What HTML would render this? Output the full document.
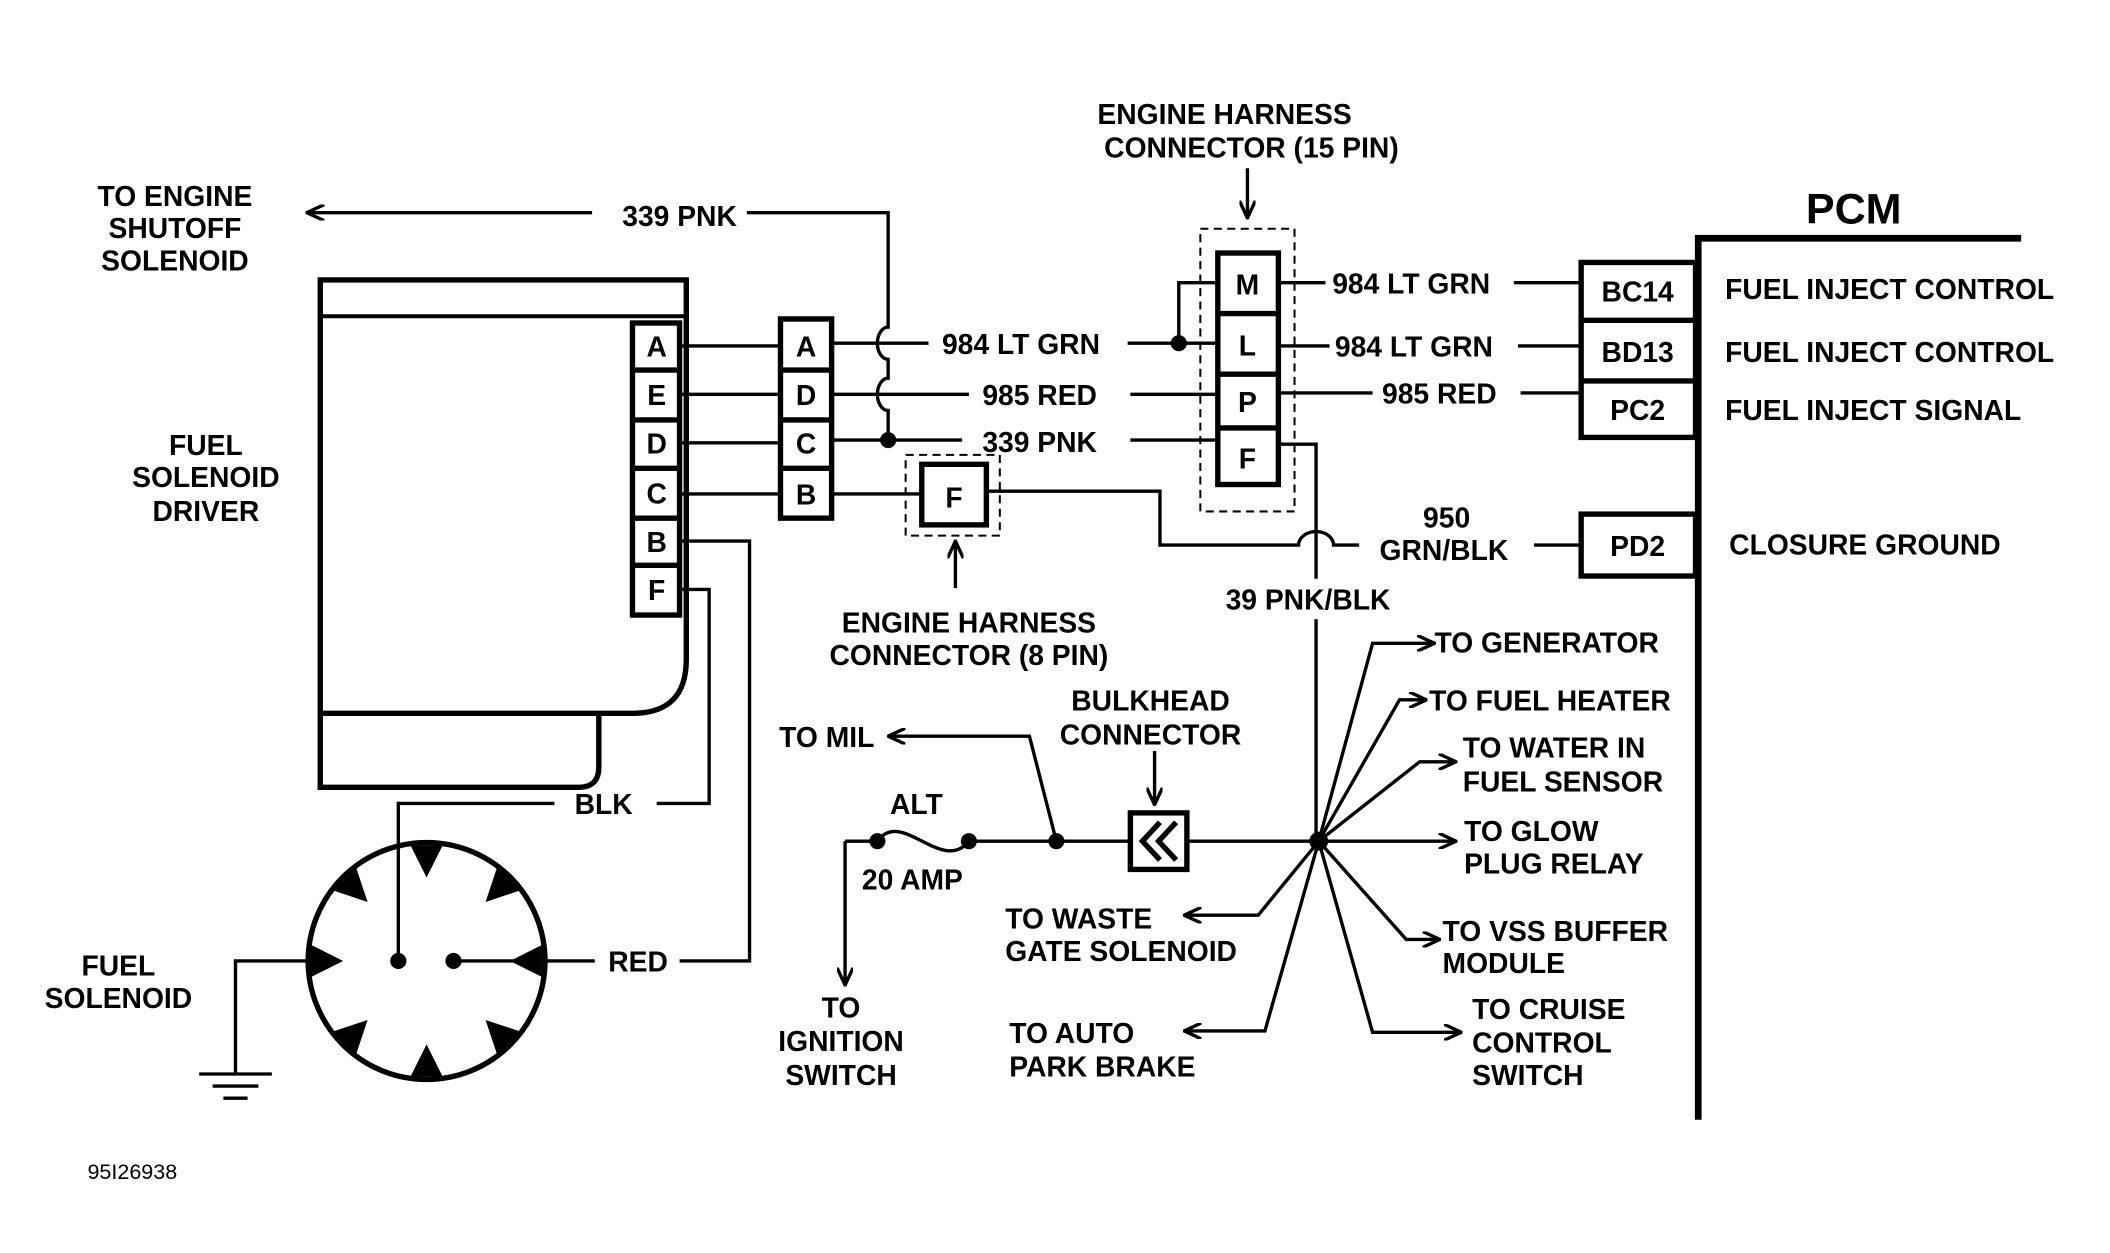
<!DOCTYPE html>
<html><head><meta charset="utf-8"><style>
html,body{margin:0;padding:0;background:#fff;}
svg{display:block;}
text{font-family:"Liberation Sans",sans-serif;font-weight:bold;font-size:21px;fill:#000;}
</style></head><body>
<svg width="2110" height="1253" viewBox="0 0 1568 931" preserveAspectRatio="none" xmlns="http://www.w3.org/2000/svg">
<defs>
<marker id="ar" markerWidth="14" markerHeight="12" refX="13" refY="6" orient="auto" markerUnits="userSpaceOnUse">
<path d="M0,0 L13,6 L0,12" fill="none" stroke="#000" stroke-width="2.5"/>
</marker>
</defs>
<g stroke="#000" stroke-width="2.5" fill="none">
<line x1="440" y1="158" x2="228" y2="158" marker-end="url(#ar)"/>
<path d="M555,158 H660 V243 a8,12 0 0 0 0,24 V281 a8,12 0 0 0 0,24 V327"/>
<path d="M238,208 H510 V490 Q510,530 470,530 H238 Z" stroke-width="4"/>
<line x1="238" y1="235" x2="510" y2="235" stroke-width="3"/>
<path d="M238,530 V585 H430 Q445,585 445,570 V530" stroke-width="4"/>
<rect x="470" y="240" width="35" height="217" stroke-width="4"/>
<line x1="470" y1="275" x2="505" y2="275" stroke-width="4"/>
<line x1="470" y1="312" x2="505" y2="312" stroke-width="4"/>
<line x1="470" y1="348" x2="505" y2="348" stroke-width="4"/>
<line x1="470" y1="385" x2="505" y2="385" stroke-width="4"/>
<line x1="470" y1="420" x2="505" y2="420" stroke-width="4"/>
<rect x="580" y="237" width="38" height="148" stroke-width="4"/>
<line x1="580" y1="275" x2="618" y2="275" stroke-width="4"/>
<line x1="580" y1="312" x2="618" y2="312" stroke-width="4"/>
<line x1="580" y1="348" x2="618" y2="348" stroke-width="4"/>
<line x1="505" y1="257" x2="580" y2="257"/>
<line x1="505" y1="293" x2="580" y2="293"/>
<line x1="505" y1="329" x2="580" y2="329"/>
<line x1="505" y1="367" x2="580" y2="367"/>
<line x1="618" y1="255" x2="690" y2="255"/>
<line x1="838" y1="255" x2="905" y2="255"/>
<path d="M876,255 V210 H905"/>
<line x1="618" y1="293" x2="720" y2="293"/>
<line x1="840" y1="293" x2="905" y2="293"/>
<line x1="618" y1="327" x2="715" y2="327"/>
<line x1="840" y1="327" x2="905" y2="327"/>
<line x1="618" y1="367" x2="685" y2="367"/>
<rect x="673" y="338" width="70" height="60" stroke-width="1.5" stroke-dasharray="6,4"/>
<rect x="685" y="345" width="48" height="45" stroke-width="4"/>
<path d="M733,365 H862 V405 H965 a13,10 0 0 1 26,0 H1010"/>
<line x1="1140" y1="405" x2="1175" y2="405"/>
<line x1="710" y1="437" x2="710" y2="402" marker-end="url(#ar)"/>
<rect x="892" y="170" width="70" height="210" stroke-width="1.5" stroke-dasharray="6,4"/>
<rect x="905" y="188" width="45" height="172" stroke-width="4"/>
<line x1="905" y1="233" x2="950" y2="233" stroke-width="4"/>
<line x1="905" y1="278" x2="950" y2="278" stroke-width="4"/>
<line x1="905" y1="318" x2="950" y2="318" stroke-width="4"/>
<line x1="927" y1="125" x2="927" y2="162" marker-end="url(#ar)"/>
<line x1="950" y1="210" x2="985" y2="210"/>
<line x1="1125" y1="210" x2="1175" y2="210"/>
<line x1="950" y1="257" x2="988" y2="257"/>
<line x1="1128" y1="257" x2="1175" y2="257"/>
<line x1="950" y1="292" x2="1020" y2="292"/>
<line x1="1130" y1="292" x2="1175" y2="292"/>
<path d="M950,330 H978 V430"/>
<line x1="978" y1="460" x2="978" y2="625"/>
<rect x="1175" y="195" width="85" height="130" stroke-width="4"/>
<line x1="1175" y1="238" x2="1260" y2="238" stroke-width="4"/>
<line x1="1175" y1="283" x2="1260" y2="283" stroke-width="4"/>
<rect x="1175" y="382" width="85" height="46" stroke-width="4"/>
<path d="M1502,177 H1262 V832" stroke-width="5"/>
<circle cx="317" cy="714" r="88" stroke-width="4"/>
<path d="M296,714 V597 H412"/>
<path d="M488,597 H527 V438 H505"/>
<path d="M505,402 H557 V714 H505"/>
<line x1="337" y1="714" x2="442" y2="714"/>
<path d="M232,714 H175 V797"/>
<line x1="148" y1="798" x2="202" y2="798"/>
<line x1="158" y1="807" x2="192" y2="807"/>
<line x1="166" y1="816" x2="184" y2="816"/>
<line x1="628" y1="625" x2="628" y2="732" marker-end="url(#ar)"/>
<path d="M628,625 H652"/>
<path d="M652,625 C670,600 700,650 720,625"/>
<line x1="720" y1="625" x2="840" y2="625"/>
<path d="M785,625 L765,547 H660" marker-end="url(#ar)"/>
<rect x="840" y="604" width="42" height="42" stroke-width="4"/>
<path d="M862,611 L849,625 L862,639 M874,611 L861,625 L874,639" stroke-width="4"/>
<line x1="858" y1="558" x2="858" y2="598" marker-end="url(#ar)"/>
<line x1="882" y1="625" x2="1082" y2="625" marker-end="url(#ar)"/>
<path d="M980,625 L1020,478 H1066" marker-end="url(#ar)"/>
<path d="M980,625 L1040,520 H1060" marker-end="url(#ar)"/>
<path d="M980,625 L1055,566 H1082" marker-end="url(#ar)"/>
<path d="M980,625 L1045,698 H1070" marker-end="url(#ar)"/>
<path d="M980,625 L1020,767 H1086" marker-end="url(#ar)"/>
<path d="M980,625 L935,680 H880" marker-end="url(#ar)"/>
<path d="M980,625 L940,766 H880" marker-end="url(#ar)"/>
</g>
<g fill="#000">
<circle cx="660" cy="327" r="6"/>
<circle cx="876" cy="255" r="6"/>
<circle cx="296" cy="714" r="6"/>
<circle cx="337" cy="714" r="6"/>
<circle cx="652" cy="625" r="6"/>
<circle cx="720" cy="625" r="6"/>
<circle cx="785" cy="625" r="6"/>
<circle cx="980" cy="625" r="7"/>
<g transform="translate(317,714)">
<path d="M-12,-86 L12,-86 L0,-62 Z" transform="rotate(0)"/>
<path d="M-12,-86 L12,-86 L0,-62 Z" transform="rotate(45)"/>
<path d="M-12,-86 L12,-86 L0,-62 Z" transform="rotate(90)"/>
<path d="M-12,-86 L12,-86 L0,-62 Z" transform="rotate(135)"/>
<path d="M-12,-86 L12,-86 L0,-62 Z" transform="rotate(180)"/>
<path d="M-12,-86 L12,-86 L0,-62 Z" transform="rotate(225)"/>
<path d="M-12,-86 L12,-86 L0,-62 Z" transform="rotate(270)"/>
<path d="M-12,-86 L12,-86 L0,-62 Z" transform="rotate(315)"/>
</g>
</g>
<g text-anchor="middle">
<text x="130" y="153">TO ENGINE</text>
<text x="130" y="177">SHUTOFF</text>
<text x="130" y="201">SOLENOID</text>
<text x="505" y="168">339 PNK</text>
<text x="153" y="338">FUEL</text>
<text x="153" y="362">SOLENOID</text>
<text x="153" y="387">DRIVER</text>
<text x="488" y="265">A</text><text x="488" y="301">E</text><text x="488" y="337">D</text>
<text x="488" y="374">C</text><text x="488" y="410">B</text><text x="488" y="446">F</text>
<text x="599" y="265">A</text><text x="599" y="301">D</text><text x="599" y="337">C</text><text x="599" y="375">B</text>
<text x="709" y="377">F</text>
<text x="927" y="219">M</text><text x="927" y="264">L</text><text x="927" y="306">P</text><text x="927" y="348">F</text>
<text x="910" y="92">ENGINE HARNESS</text>
<text x="930" y="117">CONNECTOR (15 PIN)</text>
<text x="720" y="470">ENGINE HARNESS</text>
<text x="720" y="494">CONNECTOR (8 PIN)</text>
<text x="1217" y="224">BC14</text>
<text x="1217" y="269">BD13</text>
<text x="1217" y="312">PC2</text>
<text x="1217" y="413">PD2</text>
<text x="1075" y="392">950</text>
<text x="1073" y="416">GRN/BLK</text>
<text x="972" y="453">39 PNK/BLK</text>
<text x="88" y="725">FUEL</text>
<text x="88" y="749">SOLENOID</text>
<text x="681" y="605">ALT</text>
<text x="678" y="661">20 AMP</text>
<text x="855" y="528">BULKHEAD</text>
<text x="855" y="553">CONNECTOR</text>
<text x="625" y="756">TO</text>
<text x="625" y="781">IGNITION</text>
<text x="625" y="806">SWITCH</text>
</g>
<text x="1342" y="166" style="font-size:32px">PCM</text>
<text x="700" y="263">984 LT GRN</text>
<text x="730" y="301">985 RED</text>
<text x="730" y="336">339 PNK</text>
<text x="990" y="218">984 LT GRN</text>
<text x="992" y="265">984 LT GRN</text>
<text x="1027" y="300">985 RED</text>
<text x="1282" y="222">FUEL INJECT CONTROL</text>
<text x="1282" y="269">FUEL INJECT CONTROL</text>
<text x="1282" y="312">FUEL INJECT SIGNAL</text>
<text x="1285" y="412">CLOSURE GROUND</text>
<text x="427" y="605">BLK</text>
<text x="452" y="722">RED</text>
<text x="579" y="555">TO MIL</text>
<text x="1066" y="485">TO GENERATOR</text>
<text x="1062" y="528">TO FUEL HEATER</text>
<text x="1087" y="563">TO WATER IN</text>
<text x="1087" y="588">FUEL SENSOR</text>
<text x="1088" y="625">TO GLOW</text>
<text x="1088" y="649">PLUG RELAY</text>
<text x="1072" y="699">TO VSS BUFFER</text>
<text x="1072" y="723">MODULE</text>
<text x="1094" y="757">TO CRUISE</text>
<text x="1094" y="782">CONTROL</text>
<text x="1094" y="806">SWITCH</text>
<text x="747" y="690">TO WASTE</text>
<text x="747" y="714">GATE SOLENOID</text>
<text x="750" y="775">TO AUTO</text>
<text x="750" y="800">PARK BRAKE</text>
<text x="65" y="876" style="font-size:16px;font-weight:normal">95I26938</text>
</svg>
</body></html>
